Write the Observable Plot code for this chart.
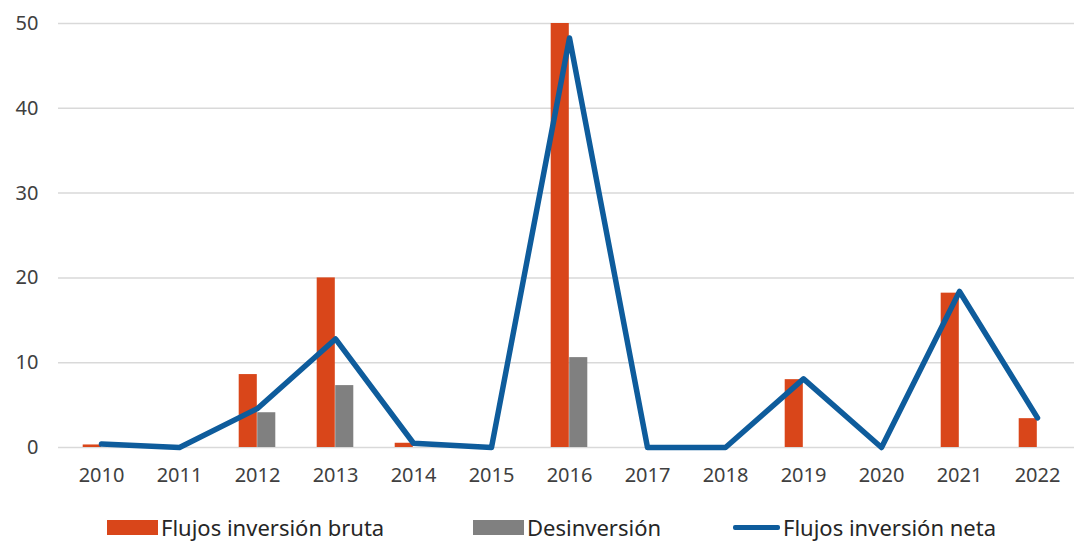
<!DOCTYPE html>
<html>
<head>
<meta charset="utf-8">
<script src="https://cdn.jsdelivr.net/npm/d3@7"></script>
<script src="https://cdn.jsdelivr.net/npm/@observablehq/plot@0.6"></script>
<style>
  html, body { margin: 0; padding: 0; background: #fff; }
  body { width: 1074px; height: 547px; overflow: hidden; font-family: "Noto Sans", sans-serif; }
  #chart svg { overflow: visible; }
  .legend { display: flex; align-items: center; height: 52px; margin-top: 6px; font-size: 22px; color: #262626; }
  .item { display: flex; align-items: center; position: absolute; }
  .sw { display: inline-block; }
</style>
</head>
<body>
<div id="chart"></div>
<div class="legend" id="legend"></div>
<script>
const years = ["2010","2011","2012","2013","2014","2015","2016","2017","2018","2019","2020","2021","2022"];
const bruta = [0.3, 0, 8.6, 20.0, 0.5, 0, 58.9, 0, 0, 8.0, 0, 18.2, 3.4];
const desinversion = [0, 0, 4.1, 7.3, 0, 0, 10.6, 0, 0, 0, 0, 0, 0];
const neta = [0.4, 0, 4.6, 12.8, 0.5, 0, 48.3, 0, 0, 8.1, 0, 18.4, 3.5];
const yTicks = [0, 10, 20, 30, 40, 50];
const seriesNames = ["Flujos inversión bruta", "Desinversión", "Flujos inversión neta"];
const colors = ["#D9461A", "#808080", "#0E5C9C"];

const rows = years.map((y, i) => ({year: y, bruta: bruta[i], des: desinversion[i], neta: neta[i]}));

const W = 1074, H = 495;
const chart = Plot.plot({
  width: W,
  height: H,
  marginLeft: 58,
  marginRight: -5,
  marginTop: 23,
  marginBottom: 48,
  style: {fontFamily: "Noto Sans, sans-serif", fontSize: "20px", color: "#404040", background: "#fff", overflow: "visible"},
  x: {domain: years, padding: 0, label: null, tickSize: 0, tickPadding: 20},
  y: {domain: [0, 50], ticks: yTicks, label: null, tickSize: 0, tickPadding: 20},
  marks: [
    Plot.gridY(yTicks, {stroke: "#d9d9d9", strokeOpacity: 1, strokeWidth: 1.5}),
    Plot.barY(rows, {x: "year", y: "bruta", fill: colors[0], insetLeft: 20.7, insetRight: 39.2, clip: true}),
    Plot.barY(rows, {x: "year", y: "des", fill: colors[1], insetLeft: 39.2, insetRight: 20.7, clip: true}),
    Plot.line(rows, {x: "year", y: "neta", stroke: colors[2], strokeWidth: 5.5, strokeLinejoin: "round", strokeLinecap: "round"})
  ]
});
document.getElementById("chart").appendChild(chart);

const legend = document.getElementById("legend");
legend.style.position = "relative";
const lpos = [107, 473, 733];
seriesNames.forEach((name, i) => {
  const it = document.createElement("div");
  it.className = "item";
  it.style.left = lpos[i] + "px";
  const sw = document.createElement("span");
  sw.className = "sw";
  if (i < 2) { sw.style.width = "51px"; sw.style.height = "15px"; }
  else { sw.style.width = "47px"; sw.style.height = "5px"; sw.style.borderRadius = "2px"; }
  sw.style.background = colors[i];
  sw.style.marginRight = "3px";
  const t = document.createElement("span");
  t.textContent = name;
  it.appendChild(sw); it.appendChild(t);
  legend.appendChild(it);
});
</script>
</body>
</html>
